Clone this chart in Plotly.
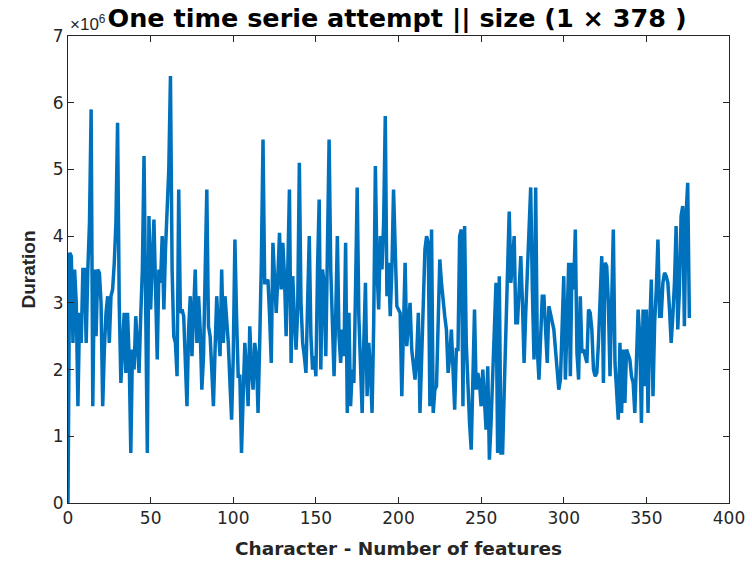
import numpy as np
import plotly.graph_objects as go

# Duration values (in units of 1e6), one per feature index
duration_millions = [
    0.0, 3.75, 3.7, 2.4, 3.5, 3.0, 1.45, 2.85, 2.4, 3.5,
    3.5, 2.4, 3.5, 4.2, 5.9, 1.45, 3.5, 2.5, 3.5, 3.45,
    3.0, 1.45, 2.3, 2.85, 3.1, 2.4, 3.1, 3.2, 3.6, 4.2,
    5.7, 3.0, 1.8, 2.4, 2.85, 1.95, 2.85, 2.2, 0.75, 2.3,
    2.0, 2.8, 2.3, 1.95, 2.8, 3.5, 5.2, 2.6, 0.75, 4.3,
    2.9, 3.6, 4.25, 3.2, 2.15, 3.5, 3.3, 4.0, 2.9, 3.8,
    4.4, 5.0, 6.4, 3.5, 2.5, 2.4, 1.9, 4.7, 2.85, 2.9,
    2.8, 2.0, 1.45, 2.6, 3.1, 2.2, 3.0, 3.5, 2.4, 3.1,
    2.6, 1.7, 2.2, 3.5, 4.7, 2.65, 2.5, 2.0, 1.45, 2.3,
    3.1, 2.6, 2.2, 3.5, 2.4, 3.1, 2.8, 2.4, 1.8, 1.25,
    2.2, 3.95, 2.8, 1.9, 1.9, 0.75, 1.6, 2.4, 2.0, 1.45,
    2.65, 2.0, 1.7, 2.4, 2.2, 1.35, 2.4, 3.6, 5.45, 3.3,
    3.3, 3.35, 2.8, 2.1, 3.9, 3.2, 2.85, 3.4, 4.05, 3.2,
    3.9, 3.4, 2.5, 3.5, 4.7, 2.1, 3.4, 2.8, 2.3, 2.9,
    5.1, 3.0, 2.4, 2.2, 1.95, 3.0, 4.0, 2.5, 2.0, 2.2,
    1.9, 3.5, 4.55, 2.0, 3.5, 3.3, 2.2, 3.8, 5.45, 3.5,
    2.5, 1.9, 2.8, 4.0, 2.5, 2.1, 2.6, 2.2, 3.9, 1.35,
    2.85, 1.45, 2.0, 1.8, 3.2, 4.73, 2.8, 2.0, 1.35, 2.4,
    3.3, 1.6, 2.4, 2.0, 1.35, 2.7, 5.05, 3.5, 2.9, 4.0,
    3.5, 4.2, 5.8, 3.1, 3.6, 2.8, 3.5, 4.7, 3.6, 2.95,
    2.9, 2.85, 1.6, 2.8, 3.6, 2.35, 2.7, 3.0, 2.3, 2.1,
    1.85, 2.2, 2.85, 1.35, 2.3, 3.05, 3.8, 4.0, 3.9, 1.45,
    4.1, 1.35, 1.7, 1.75, 2.6, 3.65, 3.3, 3.0, 2.8, 2.6,
    1.95, 2.2, 2.6, 2.0, 1.4, 2.3, 2.3, 4.0, 4.1, 1.45,
    4.15, 2.4, 1.65, 1.2, 0.8, 2.1, 2.9, 1.7, 1.95, 1.8,
    1.45, 2.0, 1.6, 1.1, 2.05, 0.65, 1.2, 1.85, 2.8, 3.3,
    0.75, 3.4, 0.75, 0.75, 1.7, 2.6, 3.6, 4.37, 3.3, 3.6,
    4.0, 2.7, 2.7, 3.2, 3.7, 3.0, 2.1, 2.85, 3.5, 4.15,
    4.73, 3.2, 2.15, 4.73, 2.3, 1.85, 2.65, 3.1, 3.1, 2.6,
    2.1, 2.95, 2.85, 2.7, 2.6, 2.3, 1.9, 1.7, 1.85, 2.7,
    3.4, 1.85, 2.6, 3.6, 1.9, 3.6, 3.2, 4.1, 2.25, 1.85,
    3.1, 2.25, 2.3, 2.2, 2.1, 2.9, 2.85, 2.6, 2.0, 1.9,
    1.95, 2.4, 3.2, 3.7, 1.8, 3.6, 3.55, 3.0, 1.9, 3.0,
    4.1, 2.1, 1.7, 1.25, 2.4, 1.35, 2.3, 1.5, 2.3, 2.2,
    2.15, 1.9, 1.8, 1.35, 2.35, 2.9, 2.5, 1.2, 2.9, 1.75,
    2.9, 1.35, 2.6, 3.35, 1.6, 2.7, 3.2, 3.95, 2.8, 2.8,
    3.3, 3.45, 3.4, 3.3, 2.9, 2.4, 2.8, 3.3, 4.15, 2.6,
    3.2, 4.3, 4.45, 2.65, 4.3, 4.8, 2.8, 2.8,
]
feature_index = list(range(len(duration_millions)))

x_ticks = [0, 50, 100, 150, 200, 250, 300, 350, 400]
y_ticks = [0, 1, 2, 3, 4, 5, 6, 7]

title_text = "<b>One time serie attempt || size (1 × 378 )</b>"
x_title = "<b>Character - Number of features</b>"
y_title = "<b>Duration</b>"

axis_color = "#262626"
wide_font = "DejaVu Sans, Verdana, sans-serif"
narrow_font = "Liberation Sans, Arial, Helvetica, sans-serif"

fig = go.Figure()
fig.add_trace(go.Scatter(
    x=feature_index, y=duration_millions, mode="lines",
    line=dict(color="#0072BD", width=3.5), showlegend=False,
))

common_axis = dict(
    showgrid=False, zeroline=False, showline=True, mirror="ticks",
    linecolor=axis_color, linewidth=1, ticks="inside", ticklen=6,
    tickcolor=axis_color, tickwidth=1, automargin=False,
    tickfont=dict(family=wide_font, size=17, color=axis_color),
)

fig.update_layout(
    width=752, height=562,
    margin=dict(l=68, r=23, t=36, b=59),
    paper_bgcolor="white", plot_bgcolor="white",
    title=dict(text=title_text, x=0.528, xanchor="center", y=0.968, yanchor="middle",
               font=dict(family=wide_font, size=25.5, color="black")),
    xaxis=dict(range=[0, 400], tickvals=x_ticks, ticktext=[str(v) for v in x_ticks],
               title=dict(text=x_title, standoff=14,
                          font=dict(family=wide_font, size=18.5, color=axis_color)),
               **common_axis),
    yaxis=dict(range=[0, 7], tickvals=y_ticks, ticktext=[str(v) for v in y_ticks],
               title=dict(text=y_title, standoff=12,
                          font=dict(family=narrow_font, size=19, color=axis_color)),
               **common_axis),
)

fig.add_annotation(
    text="×10<sup>6</sup>", xref="paper", yref="paper", x=0.0, y=1.0,
    xanchor="left", yanchor="bottom", showarrow=False,
    font=dict(family=narrow_font, size=17, color=axis_color),
)

fig.write_html("out.html")
